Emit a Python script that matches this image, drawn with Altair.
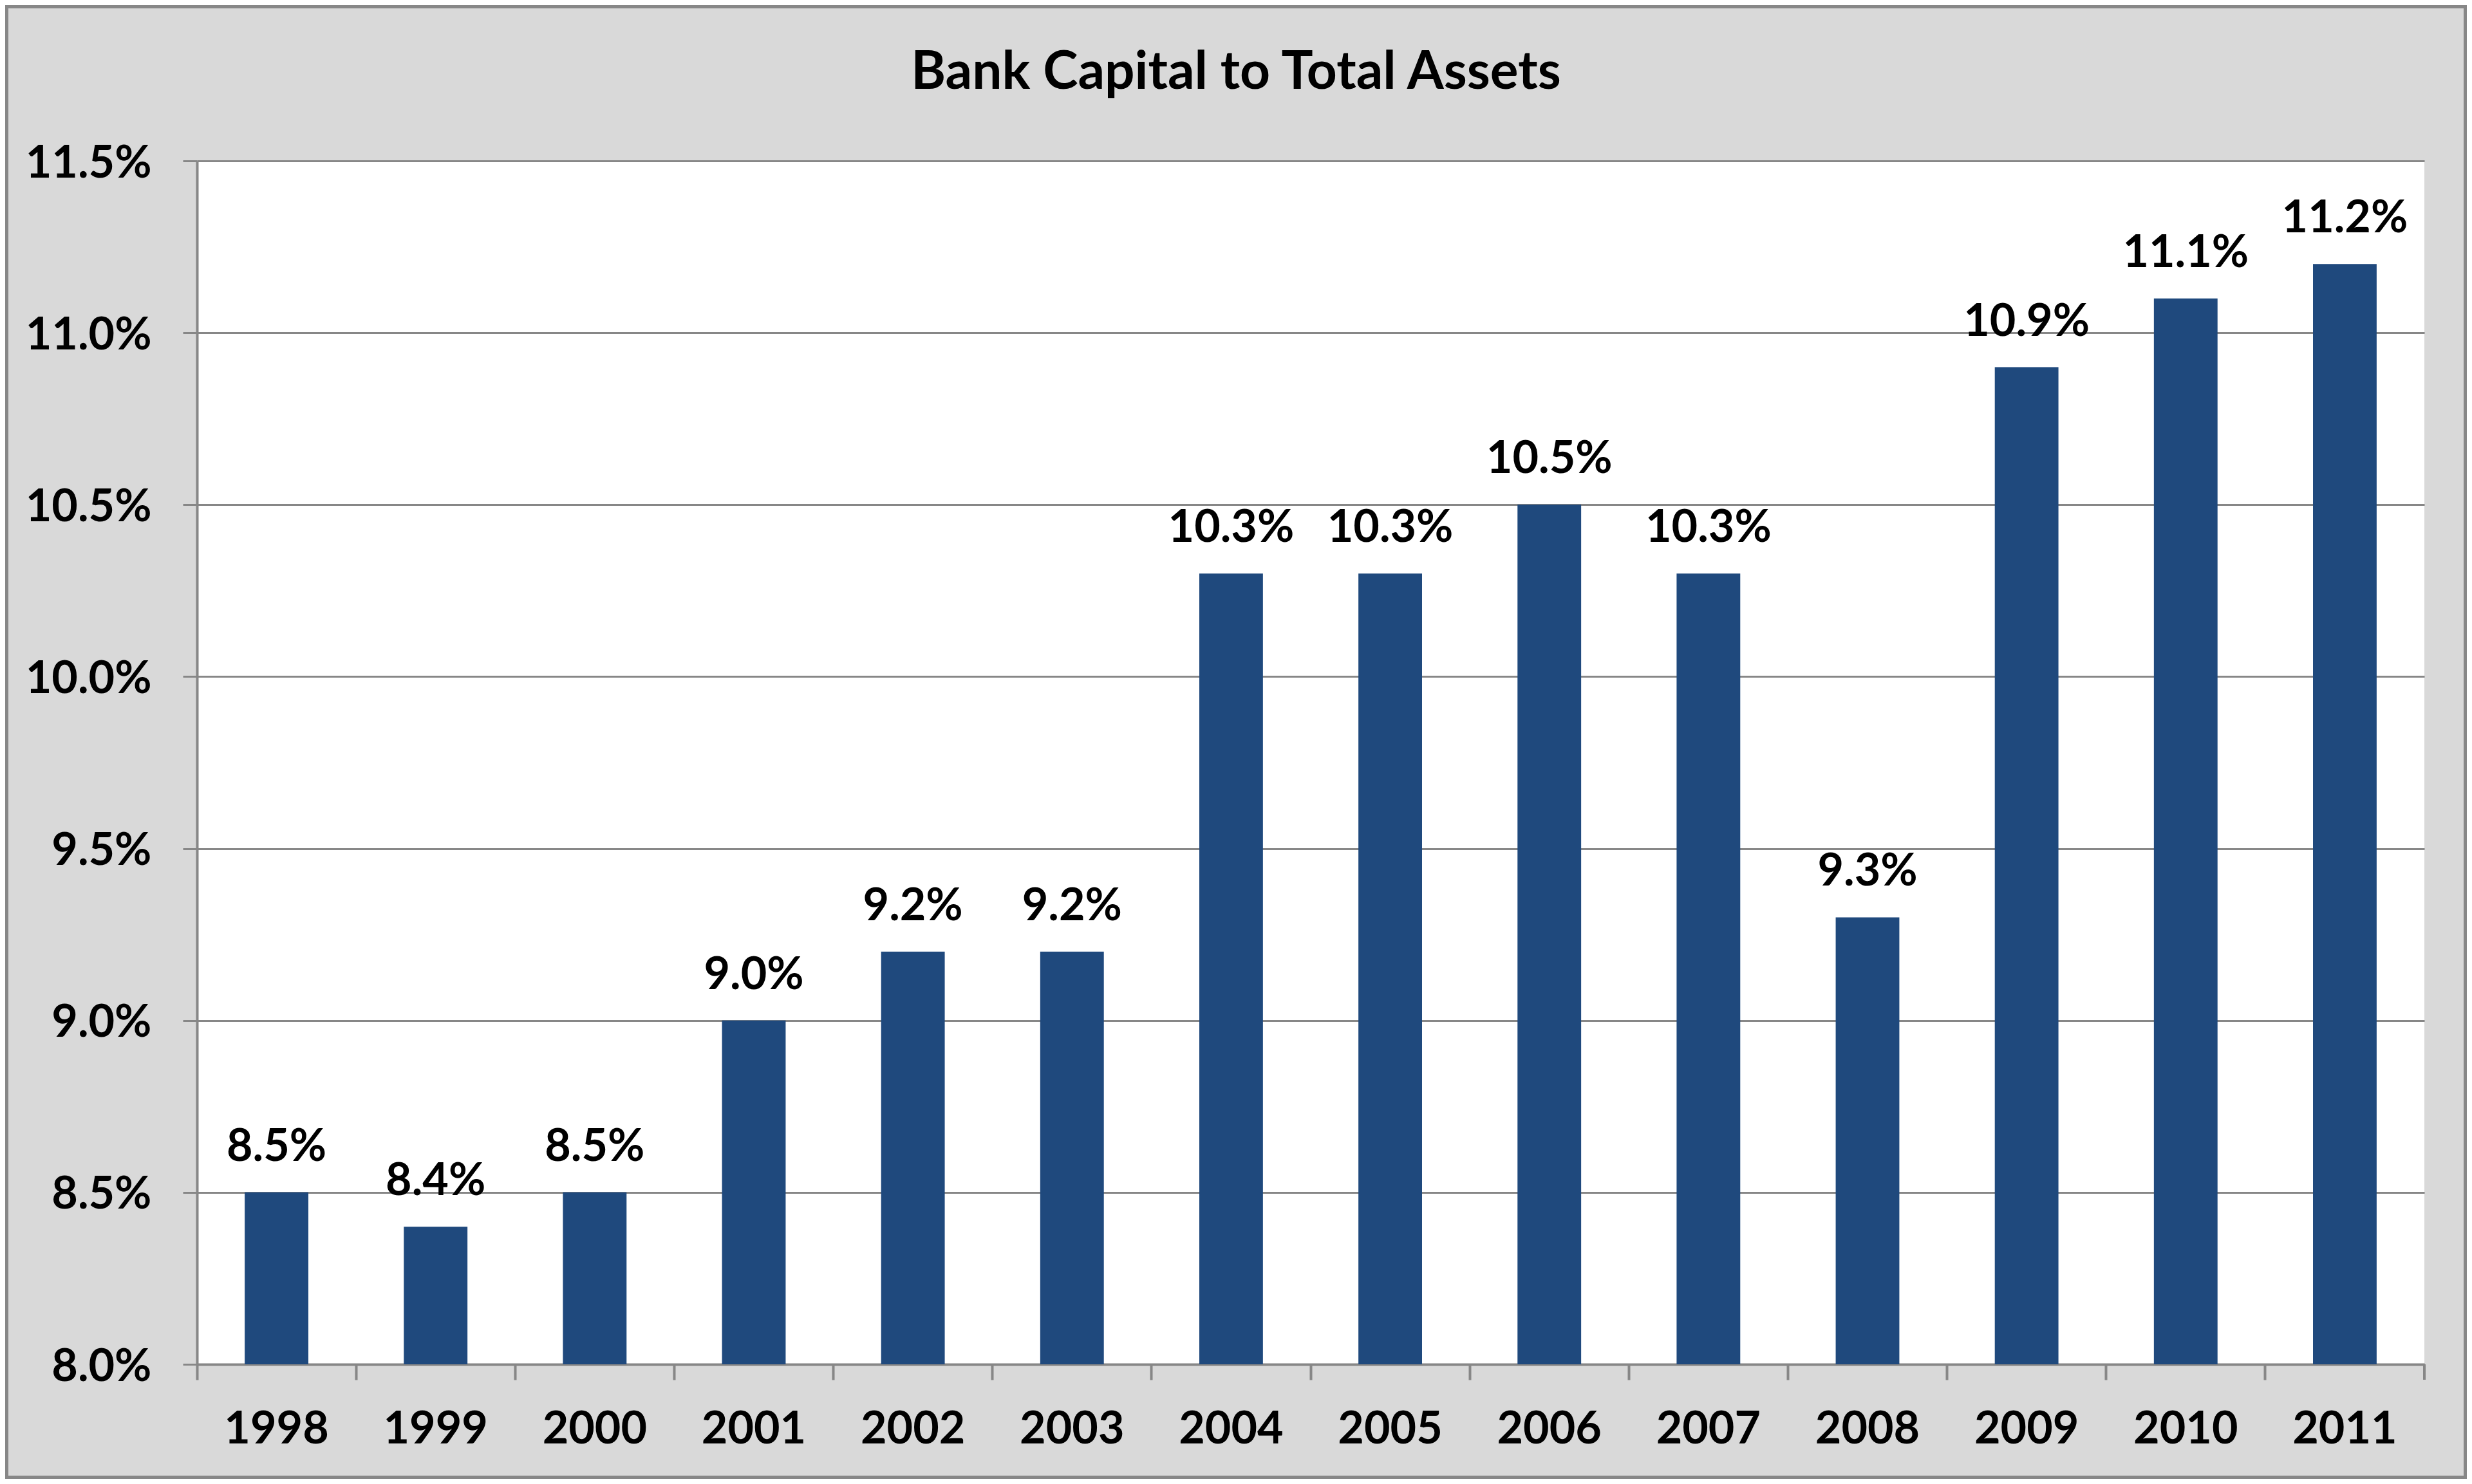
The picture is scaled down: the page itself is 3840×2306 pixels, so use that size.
import altair as alt
import pandas as pd

# ---- data ----
years = ["1998", "1999", "2000", "2001", "2002", "2003", "2004",
         "2005", "2006", "2007", "2008", "2009", "2010", "2011"]
ratios = [0.085, 0.084, 0.085, 0.090, 0.092, 0.092, 0.103,
          0.103, 0.105, 0.103, 0.093, 0.109, 0.111, 0.112]
y_ticks = [0.080, 0.085, 0.090, 0.095, 0.100, 0.105, 0.110, 0.115]
title_text = ["Bank Capital to Total Assets"]

df = pd.DataFrame({"year": years, "ratio": ratios})
one = pd.DataFrame({"t": title_text})

# ---- style ----
W, H = 3460, 1870
PAD = {"left": 298, "top": 242, "right": 66, "bottom": 178}
FONT = "Lato"
GRAY = "#878787"
BAR = "#1F497D"
BG = "#D9D9D9"
FS = 70

x_enc = alt.X(
    "year:N", title=None,
    scale=alt.Scale(paddingInner=0, paddingOuter=0),
    axis=alt.Axis(
        bandPosition=0, labelAngle=0, grid=False,
        ticks=True, tickSize=24, tickWidth=4, tickColor=GRAY,
        domainColor=GRAY, domainWidth=4,
        labelFont=FONT, labelFontSize=FS, labelFontWeight="bold",
        labelColor="black", labelPadding=43, labelLimit=0,
    ),
)
y_enc = alt.Y(
    "ratio:Q", title=None,
    scale=alt.Scale(domain=[y_ticks[0], y_ticks[-1]], zero=False, nice=False),
    axis=alt.Axis(
        values=y_ticks, format=".1%", grid=True,
        gridColor=GRAY, gridWidth=3,
        ticks=True, tickSize=22, tickWidth=3, tickColor=GRAY,
        domainColor=GRAY, domainWidth=4,
        labelFont=FONT, labelFontSize=FS, labelFontWeight="bold",
        labelColor="black", labelPadding=49, labelOffset=4,
        labelFlush=False, labelLimit=0,
    ),
)

bars = alt.Chart(df).mark_bar(
    color=BAR, width=alt.RelativeBandSize(0.4)
).encode(
    x=x_enc, y=y_enc, y2=alt.datum(y_ticks[0])
)

labels = alt.Chart(df).mark_text(
    baseline="alphabetic", align="center", dy=-49,
    font=FONT, fontSize=FS, fontWeight="bold", color="black",
).encode(
    x="year:N", y="ratio:Q", text=alt.Text("ratio:Q", format=".1%")
)

title = alt.Chart(one).mark_text(
    baseline="alphabetic", align="center",
    font=FONT, fontSize=82, fontWeight="bold", color="black",
).encode(
    x=alt.value(1614), y=alt.value(-112), text="t:N"
)

right_tick = alt.Chart(one).mark_rule(
    color=GRAY, strokeWidth=4
).encode(
    x=alt.value(W), y=alt.value(H), y2=alt.value(H + 24)
)

border = alt.Chart(one).mark_rect(
    filled=False, stroke=GRAY, strokeWidth=5
).encode(
    x=alt.value(-PAD["left"] + 2.5),
    x2=alt.value(W + PAD["right"] - 2.5),
    y=alt.value(-PAD["top"] + 2.5),
    y2=alt.value(H + PAD["bottom"] - 2.5),
)

chart = alt.layer(border, bars, labels, right_tick, title).properties(
    width=W, height=H,
    autosize=alt.AutoSizeParams(type="none"),
    padding=PAD,
).configure(
    background=BG
).configure_view(
    fill="white", strokeWidth=0
)

chart.save("out.html", embed_options={"renderer": "svg", "actions": False})
